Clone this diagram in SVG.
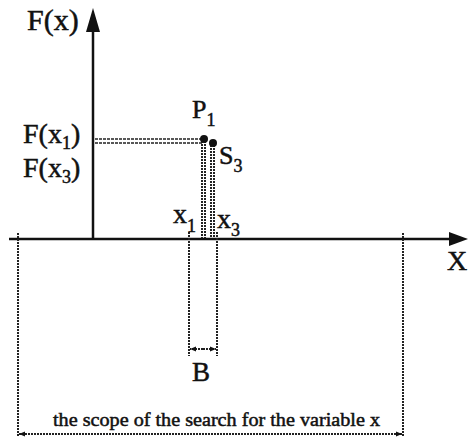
<svg xmlns="http://www.w3.org/2000/svg" width="468" height="439" viewBox="0 0 468 439">
<style>
text{font-family:'Liberation Serif','Times New Roman',serif;fill:#111;stroke:#111;stroke-width:0.5}
.axis{stroke:#111;stroke-width:2.5;fill:none}
.dash{stroke:#222;stroke-width:2;stroke-dasharray:2 1;fill:none}
.dashT{stroke:#222;stroke-width:1.6;stroke-dasharray:3 1;fill:none}
.sub{font-size:18px}
</style>
<defs>
<marker id="dimA" viewBox="0 0 10 10" refX="10" refY="5" markerWidth="6" markerHeight="6" orient="auto-start-reverse" markerUnits="userSpaceOnUse">
<path d="M0,1 L10,5 L0,9 Z" fill="#111"/>
</marker>
</defs>
<g id="connectors">
<line class="axis" x1="93" y1="240" x2="93" y2="30"/>
<polygon points="93,8 86,32 100,32" fill="#111"/>
<line class="axis" x1="9" y1="239" x2="450" y2="239"/>
<polygon points="468,239 449,232 449,246" fill="#111"/>
<line class="dashT" x1="95" y1="139" x2="202" y2="139"/>
<line class="dashT" x1="95" y1="143" x2="202" y2="143"/>
<line class="dash" x1="202" y1="141" x2="202" y2="238" stroke-width="1.6"/>
<line class="dash" x1="205" y1="141" x2="205" y2="238" stroke-width="1.6"/>
<line class="dash" x1="211" y1="145" x2="211" y2="238" stroke-width="1.6"/>
<line class="dash" x1="214" y1="145" x2="214" y2="238" stroke-width="1.6"/>
<line class="dash" x1="189" y1="232" x2="189" y2="356"/>
<line class="dash" x1="217" y1="232" x2="217" y2="356"/>
<line class="dash" x1="18" y1="233" x2="18" y2="437"/>
<line class="dash" x1="403" y1="233" x2="403" y2="437"/>
<line class="dash" x1="203" y1="349" x2="190" y2="349" marker-end="url(#dimA)"/>
<line class="dash" x1="203" y1="349" x2="216" y2="349" marker-end="url(#dimA)"/>
<line class="dash" x1="19" y1="434" x2="402" y2="434" marker-start="url(#dimA)" marker-end="url(#dimA)"/>
</g>
<g id="P1">
<circle cx="204" cy="139" r="4" fill="#111"/>
<text x="192" y="118" font-size="26">P<tspan class="sub" dy="8">1</tspan></text>
</g>
<g id="S3">
<circle cx="213" cy="143" r="4" fill="#111"/>
<text x="219" y="164" font-size="26">S<tspan class="sub" dy="8">3</tspan></text>
</g>
<g id="labels">
<text x="27" y="30" font-size="30">F(x)</text>
<text x="23" y="143" font-size="28">F(x<tspan class="sub" dy="6">1</tspan><tspan dy="-6">)</tspan></text>
<text x="23" y="177" font-size="28">F(x<tspan class="sub" dy="6">3</tspan><tspan dy="-6">)</tspan></text>
<text x="173" y="223" font-size="28">x<tspan class="sub" dy="9">1</tspan></text>
<text x="217" y="228" font-size="28">x<tspan class="sub" dy="8">3</tspan></text>
<text x="447" y="270" font-size="28">X</text>
<text x="192" y="381" font-size="27">B</text>
<text x="53" y="426" font-size="19" textLength="327" lengthAdjust="spacingAndGlyphs">the scope of the search for the variable x</text>
</g>
</svg>
